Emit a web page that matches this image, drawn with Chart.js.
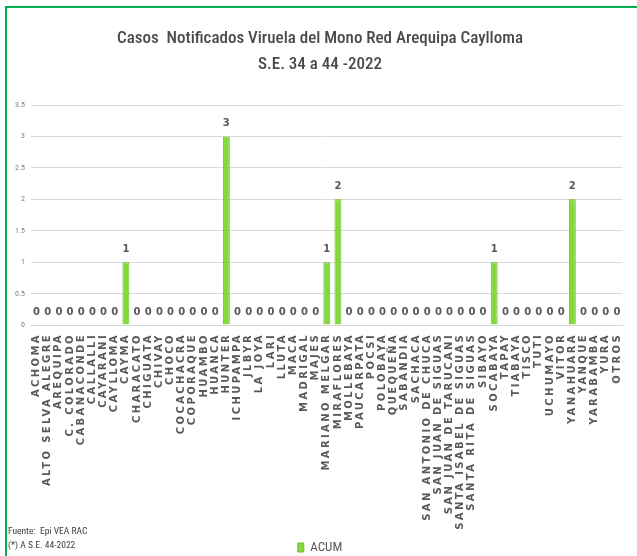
<!DOCTYPE html>
<html>
<head>
<meta charset="utf-8">
<script src="https://cdn.jsdelivr.net/npm/chart.js@4/dist/chart.umd.min.js"></script>
<style>
html,body{margin:0;padding:0;background:#fff;}
#wrap{width:637px;height:556px;position:relative;}
</style>
</head>
<body>
<div id="wrap"><canvas id="c" width="637" height="556"></canvas></div>
<script>
const titleLines = ['Casos  Notificados Viruela del Mono Red Arequipa Caylloma', 'S.E. 34 a 44 -2022'];
const categories = ['ACHOMA','ALTO SELVA ALEGRE','AREQUIPA','C. COLORADO','CABANACONDE','CALLALLI','CAYARANI','CAYLLOMA','CAYMA','CHARACATO','CHIGUATA','CHIVAY','CHOCO','COCACHACRA','COPORAQUE','HUAMBO','HUANCA','HUNTER','ICHUPAMPA','JLBYR','LA JOYA','LARI','LLUTA','MACA','MADRIGAL','MAJES','MARIANO MELGAR','MIRAFLORES','MOLLEBAYA','PAUCARPATA','POCSI','POLOBAYA','QUEQUEÑA','SABANDIA','SACHACA','SAN ANTONIO DE CHUCA','SAN JUAN DE SIGUAS','SAN JUAN DE TARUCANI','SANTA ISABEL DE SIGUAS','SANTA RITA DE SIGUAS','SIBAYO','SOCABAYA','TAPAY','TIABAYA','TISCO','TUTI','UCHUMAYO','VITOR','YANAHUARA','YANQUE','YARABAMBA','YURA','OTROS'];
const acum = [0,0,0,0,0,0,0,0,1,0,0,0,0,0,0,0,0,3,0,0,0,0,0,0,0,0,1,2,0,0,0,0,0,0,0,0,0,0,0,0,0,1,0,0,0,0,0,0,2,0,0,0,0];
const seriesName = 'ACUM';
const yTicks = [0,0.5,1,1.5,2,2.5,3,3.5];
const footnotes = ['Fuente:  Epi VEA RAC', '(*) A S.E. 44-2022'];

const NARROW = "'Liberation Sans Narrow','Arial Narrow','Roboto Condensed',Roboto,sans-serif";

const framePlugin = {
  id: 'frame',
  beforeDraw(chart) {
    const ctx = chart.ctx;
    ctx.save();
    ctx.fillStyle = '#fff';
    ctx.fillRect(0, 0, chart.width, chart.height);
    ctx.strokeStyle = '#00b050';
    ctx.lineWidth = 2;
    ctx.strokeRect(6, 7, chart.width + 20, chart.height + 20);
    ctx.restore();
    const xs = chart.scales.x;
    if (xs && !xs._patched) {
      const orig = xs.drawLabels.bind(xs);
      xs.drawLabels = function(area) {
        const c = this.ctx;
        c.save();
        try { c.letterSpacing = '2.4px'; } catch (e) {}
        orig(area);
        c.restore();
      };
      xs._patched = true;
    }
  },
  afterDatasetsDraw(chart) {
    const ctx = chart.ctx;
    const meta = chart.getDatasetMeta(0);
    ctx.save();
    ctx.font = "bold 10px 'DejaVu Sans', sans-serif";
    ctx.fillStyle = '#595959';
    ctx.textAlign = 'center';
    ctx.textBaseline = 'middle';
    meta.data.forEach((bar, i) => {
      const v = chart.data.datasets[0].data[i];
      ctx.fillText(String(v), bar.x, bar.y - 13);
    });
    ctx.restore();
  },
  afterDraw(chart) {
    const ctx = chart.ctx;
    ctx.save();
    ctx.font = "9.5px " + NARROW;
    ctx.fillStyle = '#404040';
    ctx.textAlign = 'left';
    ctx.textBaseline = 'middle';
    ctx.fillText(footnotes[0], 8, 532);
    ctx.fillText(footnotes[1], 8, 546);
    ctx.restore();
  }
};

new Chart(document.getElementById('c'), {
  type: 'bar',
  data: {
    labels: categories,
    datasets: [{
      label: seriesName,
      data: acum,
      backgroundColor: '#84d93c',
      borderColor: '#66c02c',
      borderWidth: 1,
      barPercentage: 0.62,
      categoryPercentage: 1.0
    }]
  },
  options: {
    responsive: false,
    animation: false,
    devicePixelRatio: 1,
    layout: { padding: { left: 6, right: 3, top: 10, bottom: -8 } },
    plugins: {
      title: {
        display: true,
        text: titleLines,
        color: '#4a4a4a',
        font: { family: NARROW, size: 17, weight: '500', lineHeight: 1.53 },
        padding: { top: 16, bottom: 27 }
      },
      legend: {
        display: true,
        position: 'bottom',
        labels: {
          color: '#595959',
          font: { family: NARROW, size: 13 },
          boxWidth: 6,
          boxHeight: 9,
          padding: 4
        }
      },
      tooltip: { enabled: false }
    },
    scales: {
      x: {
        grid: { display: false, drawTicks: false },
        border: { display: true, color: '#d9d9d9' },
        ticks: {
          autoSkip: false,
          minRotation: 90,
          maxRotation: 90,
          padding: 8,
          color: '#595959',
          font: { family: "'DejaVu Sans', Verdana, sans-serif", size: 10, weight: 'bold' }
        },
        afterFit(s) { s.height = 212; }
      },
      y: {
        min: 0,
        max: 3.5,
        afterBuildTicks(s) { s.ticks = yTicks.map(v => ({ value: v })); },
        grid: { color: '#d9d9d9', drawTicks: false },
        border: { display: false },
        ticks: {
          padding: 6,
          color: '#7f7f7f',
          font: { family: NARROW, size: 8 },
          callback: (v) => String(v)
        },
        afterFit(s) { s.width = 25; }
      }
    }
  },
  plugins: [framePlugin]
});
</script>
</body>
</html>
